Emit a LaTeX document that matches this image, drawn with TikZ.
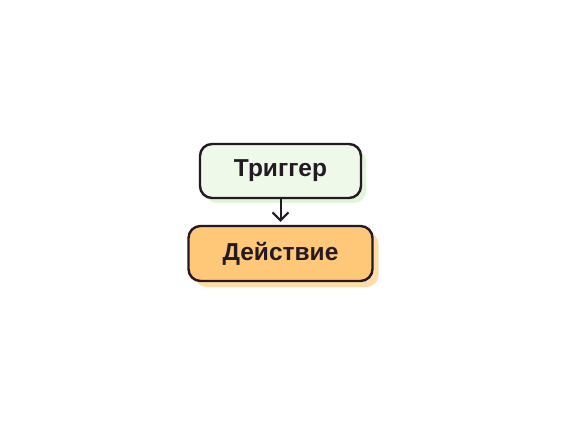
\documentclass[tikz,border=0pt]{standalone}
\usepackage{fontspec}
\setmainfont{Liberation Sans}
\usetikzlibrary{shadows, arrows.meta}
\definecolor{ink}{HTML}{231A23}
\definecolor{trigfill}{HTML}{EEF9E9}
\definecolor{trigshade}{HTML}{E1F5D8}
\definecolor{actfill}{HTML}{FFC878}
\definecolor{actshade}{HTML}{FFDCA6}
\tikzset{
  stepnode/.style={shape=rectangle, draw=ink, line width=2.4pt, rounded corners=12pt,
    font=\bfseries\fontsize{24.5}{27}\selectfont, text=ink, inner sep=0pt},
}
\begin{document}
\begin{tikzpicture}[x=1pt, y=1pt]
%%%%%%%%%%%%%%%%%%%%%%%%%%%%%%%%%%%%%%%%%%% canvas
\useasboundingbox[fill=white] (0,0) rectangle (565,429);

%%%%%%%%%%%%%%%%%%%%%%%%%%%%%%%%%%%%%%%%%%% elements
\node[stepnode, fill=trigfill, minimum width=161pt, minimum height=54pt,
  drop shadow={shadow xshift=5pt, shadow yshift=-5pt, fill=trigshade, opacity=1}](trigger) at (280.5,258){Триггер};
\node[stepnode, fill=actfill, minimum width=184pt, minimum height=55pt,
  drop shadow={shadow xshift=6pt, shadow yshift=-6pt, fill=actshade, opacity=1}](action) at (280.5,175.5){Действие};

%%%%% connector
\draw[ink, line width=2pt, -{Straight Barb[length=8pt, width=16pt, line width=2pt]}] (trigger.south) -- ([yshift=3pt]action.north);
\end{tikzpicture}
\end{document}
